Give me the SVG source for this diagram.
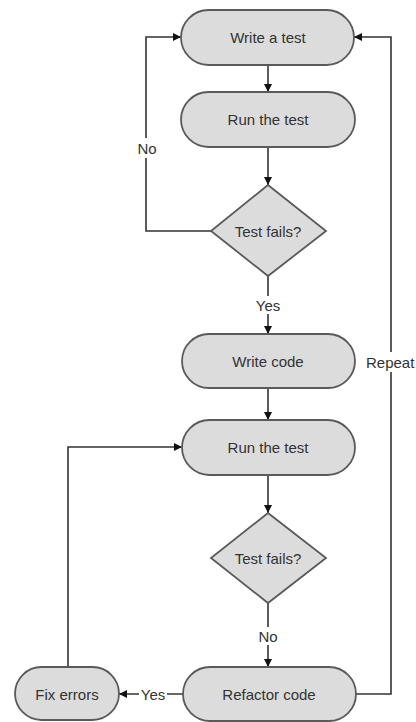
<svg xmlns="http://www.w3.org/2000/svg" width="416" height="722" viewBox="0 0 416 722">
<style>
.box{fill:#dcdcdc;stroke:#5a5a5a;stroke-width:1.8}
.t{font-family:"Liberation Sans",Arial,sans-serif;font-size:15px;fill:#333;text-anchor:middle;dominant-baseline:central}
.lbl{font-family:"Liberation Sans",Arial,sans-serif;font-size:15px;fill:#333;text-anchor:middle;dominant-baseline:central}
.c{fill:none;stroke:#333;stroke-width:1.6}
</style>
<defs>
<marker id="ah" viewBox="0 0 10 10" refX="10" refY="5" markerWidth="8" markerHeight="8" markerUnits="userSpaceOnUse" orient="auto">
<path d="M0,0 L10,5 L0,10 Z" fill="#111"/>
</marker>
</defs>
<rect width="416" height="722" fill="#fff"/>
<g id="connectors">
<path class="c" d="M268,65 V92" marker-end="url(#ah)"/>
<path class="c" d="M268,147 V185" marker-end="url(#ah)"/>
<path class="c" d="M211,231 H146 V37 H181" marker-end="url(#ah)"/>
<path class="c" d="M268,276 V334" marker-end="url(#ah)"/>
<path class="c" d="M268,388 V420" marker-end="url(#ah)"/>
<path class="c" d="M268,475 V513" marker-end="url(#ah)"/>
<path class="c" d="M268,603 V667" marker-end="url(#ah)"/>
<path class="c" d="M183,694 H119" marker-end="url(#ah)"/>
<path class="c" d="M68,667 V447 H182" marker-end="url(#ah)"/>
<path class="c" d="M356,694 H391 V37 H354" marker-end="url(#ah)"/>
<rect x="136" y="138" width="22" height="20" fill="#fff"/>
<text class="lbl" x="147" y="148">No</text>
<rect x="254" y="296" width="28" height="18" fill="#fff"/>
<text class="lbl" x="268" y="305">Yes</text>
<rect x="258" y="627" width="22" height="18" fill="#fff"/>
<text class="lbl" x="268" y="636">No</text>
<rect x="139" y="685" width="28" height="18" fill="#fff"/>
<text class="lbl" x="153" y="694">Yes</text>
<rect x="364" y="352" width="52" height="20" fill="#fff"/>
<text class="lbl" x="366" y="362" style="text-anchor:start">Repeat</text>
</g>
<g id="write-test">
<rect class="box" x="181" y="10" width="173" height="55" rx="27.5"/>
<text class="t" x="268" y="37">Write a test</text>
</g>
<g id="run-test-1">
<rect class="box" x="181" y="92" width="174" height="55" rx="27.5"/>
<text class="t" x="268" y="119">Run the test</text>
</g>
<g id="test-fails-1">
<polygon class="box" points="268,185 326,231 268,276 211,231"/>
<text class="t" x="268" y="231">Test fails?</text>
</g>
<g id="write-code">
<rect class="box" x="182" y="334" width="173" height="54" rx="27"/>
<text class="t" x="268" y="361">Write code</text>
</g>
<g id="run-test-2">
<rect class="box" x="182" y="420" width="173" height="55" rx="27.5"/>
<text class="t" x="268" y="447">Run the test</text>
</g>
<g id="test-fails-2">
<polygon class="box" points="268,513 326,558 268,603 211,558"/>
<text class="t" x="268" y="558">Test fails?</text>
</g>
<g id="refactor">
<rect class="box" x="183" y="667" width="173" height="54" rx="27"/>
<text class="t" x="269" y="694">Refactor code</text>
</g>
<g id="fix-errors">
<rect class="box" x="15" y="667" width="104" height="53" rx="26.5"/>
<text class="t" x="67" y="694">Fix errors</text>
</g>
</svg>
